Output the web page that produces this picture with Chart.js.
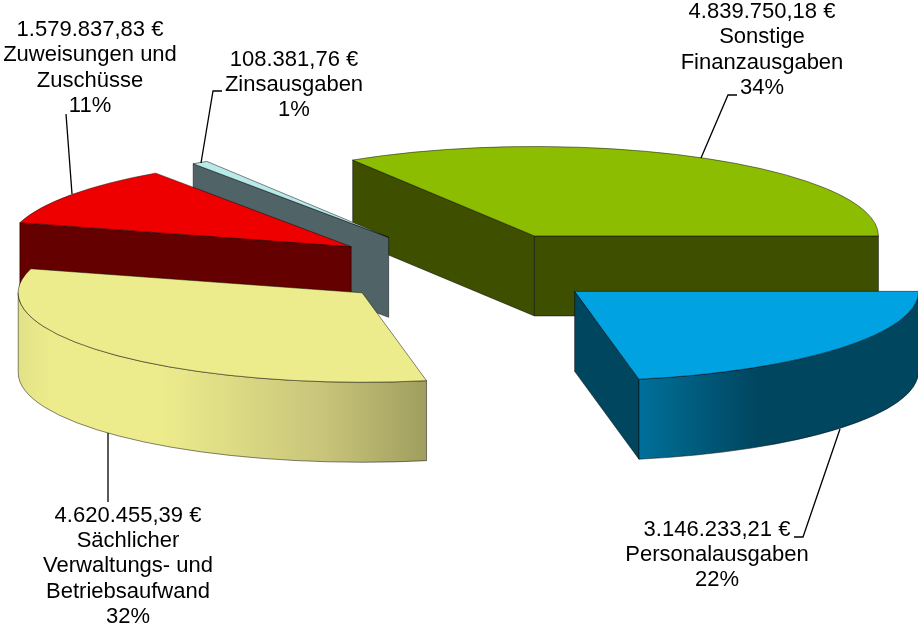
<!DOCTYPE html>
<html>
<head>
<meta charset="utf-8">
<style>
  html, body { margin: 0; padding: 0; background: #fff; }
  canvas { display: block; }
</style>
<script src="https://cdn.jsdelivr.net/npm/chart.js@4"></script>
</head>
<body>
<canvas id="myChart" width="918" height="627"></canvas>
<script>
// Data, clockwise from the start of the green slice
const categories = [
  ['Sonstige', 'Finanzausgaben'],
  ['Personalausgaben'],
  ['Sächlicher', 'Verwaltungs- und', 'Betriebsaufwand'],
  ['Zuweisungen und', 'Zuschüsse'],
  ['Zinsausgaben'],
];
const values = [4839750.18, 3146233.21, 4620455.39, 1579837.83, 108381.76];
const amounts = ['4.839.750,18 €', '3.146.233,21 €', '4.620.455,39 €', '1.579.837,83 €', '108.381,76 €'];
const percents = ['34%', '22%', '32%', '11%', '1%'];

// Colours
const topColors = ['#8dbd00', '#00a2e2', '#edec8c', '#ee0000', '#b8eaea'];
const wallColors = ['#3f4f00', '#00465f', '#a09e5e', '#640000', '#506468'];
const rimStops = {
  1: [[0, '#00709a'], [0.42, '#00465f'], [1, '#00465f']],
  2: [[0, '#e2e186'], [0.08, '#edec8c'], [0.35, '#edec8c'], [0.75, '#c8c47a'], [1, '#a09e5e']],
};

// Layout of the fake 3D pie
const centerX = 466;
const centerY = 268;
const radius = 344;
const squash = 0.26;
const depth = 80;
const explode = 141;
const drawOrder = [0, 4, 3, 2, 1]; // back to front

// Text and leader lines, same order as the data
const labelBoxes = [
  { x: 762, y: 12 },
  { x: 717, y: 529.5 },
  { x: 128, y: 515.5 },
  { x: 90, y: 30 },
  { x: 294, y: 59.5 },
];
const leaders = [
  [[737, 95], [728, 95], [701, 158]],
  [[840, 429], [803, 537], [794, 537]],
  [[108, 433], [108, 502]],
  [[66, 114], [72, 194]],
  [[222, 91], [213, 91], [201, 163]],
];
const lineHeight = 25.4;

function sliceCenter(arc) {
  const mid = (arc.startAngle + arc.endAngle) / 2;
  return {
    x: centerX + Math.cos(mid) * explode,
    y: centerY + Math.sin(mid) * explode * squash,
  };
}

function outline(ctx) {
  ctx.lineWidth = 0.8;
  ctx.strokeStyle = 'rgba(0,0,0,0.6)';
  ctx.stroke();
}

function drawWall(ctx, c, r, angle, color) {
  const ex = c.x + Math.cos(angle) * r;
  const ey = c.y + Math.sin(angle) * r * squash;
  ctx.beginPath();
  ctx.moveTo(c.x, c.y);
  ctx.lineTo(ex, ey);
  ctx.lineTo(ex, ey + depth);
  ctx.lineTo(c.x, c.y + depth);
  ctx.closePath();
  ctx.fillStyle = color;
  ctx.fill();
  outline(ctx);
}

function drawRim(ctx, c, r, from, to, i) {
  let fill = wallColors[i];
  if (rimStops[i]) {
    fill = ctx.createLinearGradient(c.x + Math.cos(to) * r, 0, c.x + Math.cos(from) * r, 0);
    rimStops[i].forEach(s => fill.addColorStop(s[0], s[1]));
  }
  ctx.beginPath();
  ctx.ellipse(c.x, c.y, r, r * squash, 0, from, to);
  ctx.ellipse(c.x, c.y + depth, r, r * squash, 0, to, from, true);
  ctx.closePath();
  ctx.fillStyle = fill;
  ctx.fill();
  outline(ctx);
}

const pie3d = {
  id: 'pie3d',
  beforeDatasetDraw(chart) {
    const ctx = chart.ctx;
    const arcs = chart.getDatasetMeta(0).data;

    drawOrder.forEach(i => {
      const arc = arcs[i];
      const c = sliceCenter(arc);
      const r = arc.outerRadius;

      if (Math.cos(arc.startAngle) < 0) drawWall(ctx, c, r, arc.startAngle, wallColors[i]);
      if (Math.cos(arc.endAngle) > 0) drawWall(ctx, c, r, arc.endAngle, wallColors[i]);

      const from = Math.max(arc.startAngle, 0);
      const to = Math.min(arc.endAngle, Math.PI);
      if (to > from) drawRim(ctx, c, r, from, to, i);

      // top face is the library's own arc, moved out and flattened
      ctx.save();
      ctx.translate(c.x, c.y);
      ctx.scale(1, squash);
      ctx.translate(-arc.x, -arc.y);
      arc.draw(ctx);
      ctx.restore();

      ctx.beginPath();
      ctx.moveTo(c.x, c.y);
      ctx.ellipse(c.x, c.y, r, r * squash, 0, arc.startAngle, arc.endAngle);
      ctx.closePath();
      outline(ctx);
    });
    return false;
  },
  afterDraw(chart) {
    const ctx = chart.ctx;
    ctx.save();
    ctx.strokeStyle = '#000';
    ctx.lineWidth = 1.3;
    leaders.forEach(pts => {
      ctx.beginPath();
      pts.forEach((p, n) => (n ? ctx.lineTo(p[0], p[1]) : ctx.moveTo(p[0], p[1])));
      ctx.stroke();
    });

    ctx.fillStyle = '#000';
    ctx.font = '22px "Liberation Sans"';
    ctx.textAlign = 'center';
    ctx.textBaseline = 'middle';
    categories.forEach((cat, i) => {
      const lines = [amounts[i]].concat(cat, percents[i]);
      lines.forEach((line, n) => {
        ctx.fillText(line, labelBoxes[i].x, labelBoxes[i].y + n * lineHeight);
      });
    });
    ctx.restore();
  },
};

new Chart(document.getElementById('myChart'), {
  type: 'pie',
  data: {
    labels: categories.map(c => c.join(' ')),
    datasets: [{
      data: values,
      backgroundColor: topColors,
      borderWidth: 0,
      clip: false,
    }],
  },
  options: {
    responsive: false,
    animation: false,
    events: [],
    radius: radius,
    rotation: -31.9,
    plugins: {
      legend: { display: false },
      tooltip: { enabled: false },
    },
  },
  plugins: [pie3d],
});
</script>
</body>
</html>
